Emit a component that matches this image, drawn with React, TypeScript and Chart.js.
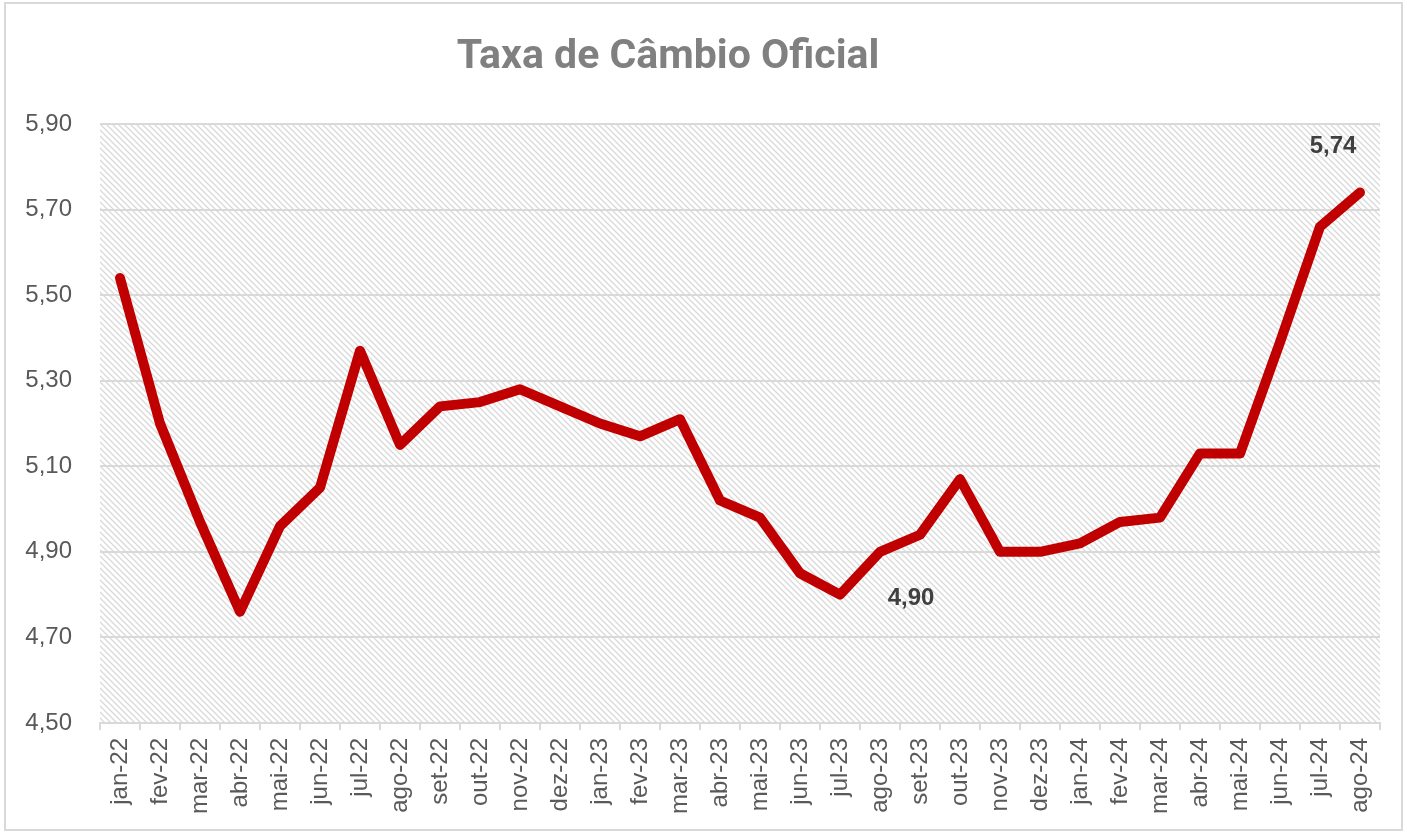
import React, { useEffect, useRef } from "react";
import { Chart, registerables } from "chart.js";

Chart.register(...registerables);

const categories = [
  "jan-22", "fev-22", "mar-22", "abr-22", "mai-22", "jun-22", "jul-22", "ago-22",
  "set-22", "out-22", "nov-22", "dez-22", "jan-23", "fev-23", "mar-23", "abr-23",
  "mai-23", "jun-23", "jul-23", "ago-23", "set-23", "out-23", "nov-23", "dez-23",
  "jan-24", "fev-24", "mar-24", "abr-24", "mai-24", "jun-24", "jul-24", "ago-24",
];

const exchangeRate = [
  5.54, 5.20, 4.97, 4.76, 4.96, 5.05, 5.37, 5.15,
  5.24, 5.25, 5.28, 5.24, 5.20, 5.17, 5.21, 5.02,
  4.98, 4.85, 4.80, 4.90, 4.94, 5.07, 4.90, 4.90,
  4.92, 4.97, 4.98, 5.13, 5.13, 5.39, 5.66, 5.74,
];

const yMin = 4.5;
const yMax = 5.9;
const yStep = 0.2;

const labelledIndices = [19, 31];

const titleText = "Taxa de Câmbio Oficial";

const fmt = (v: number) => v.toFixed(2).replace(".", ",");

function makeHatch(ctx: CanvasRenderingContext2D) {
  const s = 6;
  const c = document.createElement("canvas");
  c.width = s;
  c.height = s;
  const g = c.getContext("2d")!;
  g.fillStyle = "#ffffff";
  g.fillRect(0, 0, s, s);
  g.strokeStyle = "#d9d9d9";
  g.lineWidth = 1.3;
  g.beginPath();
  g.moveTo(-1, -1);
  g.lineTo(s + 1, s + 1);
  g.moveTo(-1, s - 1);
  g.lineTo(1, s + 1);
  g.moveTo(s - 1, -1);
  g.lineTo(s + 1, 1);
  g.stroke();
  return ctx.createPattern(c, "repeat");
}

const decorPlugin = {
  id: "decor",
  beforeDraw(chart: any) {
    const { ctx, chartArea, width, height } = chart;
    ctx.save();
    ctx.fillStyle = "#ffffff";
    ctx.fillRect(0, 0, width, height);
    ctx.strokeStyle = "#d9d9d9";
    ctx.lineWidth = 2;
    ctx.strokeRect(5, 3, width - 10, height - 6);
    const pat = makeHatch(ctx);
    if (pat) {
      ctx.fillStyle = pat;
      ctx.fillRect(chartArea.left, chartArea.top, chartArea.right - chartArea.left, chartArea.bottom - chartArea.top);
    }
    ctx.fillStyle = "#808080";
    ctx.font = 'bold 41px Roboto, "Liberation Sans", sans-serif';
    ctx.textAlign = "center";
    ctx.textBaseline = "middle";
    ctx.fillText(titleText, 668, 58);
    ctx.restore();
  },
  afterDatasetsDraw(chart: any) {
    const { ctx } = chart;
    const xs = chart.scales.x;
    const ys = chart.scales.y;
    ctx.save();
    ctx.fillStyle = "#404040";
    ctx.font = 'bold 24px "Liberation Sans", Arial, sans-serif';
    ctx.textAlign = "center";
    ctx.textBaseline = "middle";
    labelledIndices.forEach((i) => {
      const v = exchangeRate[i];
      const px = xs.getPixelForValue(i);
      const py = ys.getPixelForValue(v);
      const last = i === exchangeRate.length - 1;
      const dx = last ? -27 : 31;
      const dy = last ? -46 : 47;
      ctx.fillText(fmt(v), px + dx, py + dy);
    });
    ctx.restore();
  },
};

export default function App() {
  const ref = useRef<HTMLCanvasElement | null>(null);
  useEffect(() => {
    if (!ref.current) return;
    const chart = new Chart(ref.current, {
      type: "line",
      data: {
        labels: categories,
        datasets: [
          {
            data: exchangeRate,
            borderColor: "#C00000",
            borderWidth: 10,
            pointRadius: 0,
            pointHoverRadius: 0,
            tension: 0,
            borderCapStyle: "round",
            borderJoinStyle: "round",
            fill: false,
          },
        ],
      },
      options: {
        animation: false,
        responsive: true,
        maintainAspectRatio: false,
        layout: { padding: { top: 124, right: 27, bottom: 0, left: 0 } },
        plugins: {
          legend: { display: false },
          tooltip: { enabled: false },
          title: { display: false },
        },
        scales: {
          x: {
            type: "category",
            offset: true,
            afterFit: (s: any) => {
              s.height = 110;
            },
            grid: {
              offset: true,
              drawOnChartArea: false,
              drawTicks: true,
              tickLength: 7,
              color: "#d9d9d9",
              lineWidth: 2,
            },
            border: { display: true, color: "#d9d9d9", width: 2 },
            ticks: {
              autoSkip: false,
              minRotation: 90,
              maxRotation: 90,
              padding: 8,
              color: "#595959",
              font: { family: '"Liberation Sans", Arial, sans-serif', size: 24 },
            },
          },
          y: {
            min: yMin,
            max: yMax,
            afterFit: (s: any) => {
              s.width = 100;
            },
            grid: {
              color: "#d9d9d9",
              lineWidth: 2,
              drawTicks: false,
            },
            border: { display: false },
            ticks: {
              stepSize: yStep,
              padding: 28,
              color: "#595959",
              font: { family: '"Liberation Sans", Arial, sans-serif', size: 24 },
              callback: (v: any) => fmt(Number(v)),
            },
          },
        },
      },
      plugins: [decorPlugin],
    });
    return () => chart.destroy();
  }, []);
  return (
    <div style={{ position: "absolute", left: 0, top: 0, width: 1407, height: 833 }}>
      <canvas ref={ref} />
    </div>
  );
}
